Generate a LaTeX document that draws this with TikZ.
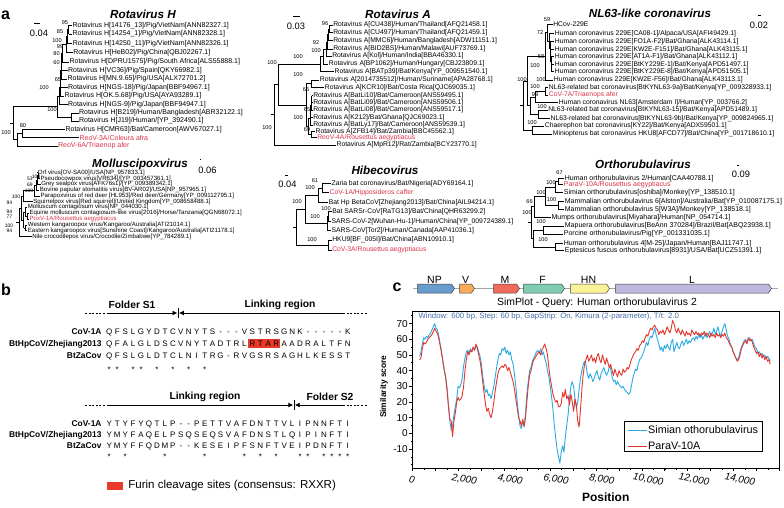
\documentclass[tikz,border=0pt]{standalone}
\usepackage{fontspec}
\setmainfont{Liberation Sans}
\usetikzlibrary{calc,positioning,arrows.meta,shapes.symbols}

\definecolor{virred}{RGB}{218,52,72}
\definecolor{furin}{RGB}{232,58,40}
\definecolor{simblue}{RGB}{41,171,226}
\definecolor{parared}{RGB}{229,53,43}
\definecolor{wincol}{RGB}{70,110,170}
\definecolor{cNP}{RGB}{104,156,204}
\definecolor{cV}{RGB}{247,170,88}
\definecolor{cM}{RGB}{240,106,92}
\definecolor{cF}{RGB}{128,204,176}
\definecolor{cHN}{RGB}{250,242,150}
\definecolor{cL}{RGB}{190,186,222}

\newcommand\fsz[1]{\fontsize{#1}{#1}\selectfont}
% clade: name, x of node, two children
\newcommand\clade[4]{%
  \coordinate (tmp) at ($(#3)!.5!(#4)$);
  \coordinate (#1) at (#2,0 |- tmp);
  \draw[brl] (#3 -| #1) -- (#3) (#4 -| #1) -- (#4) (#3 -| #1) -- (#4 -| #1);
}
\newcommand\bs[4]{\node[bsl] (#1) at (#2,#3) {#4};}

\tikzset{
  brl/.style={line width=0.6pt},
  lf/.style={anchor=west, inner sep=0.4pt, font=\fsz{6.8}},
  vir/.style={text=virred},
  bsl/.style={inner sep=0pt, font=\fsz{5.6}},
  ttl/.style={font=\fsz{11.7}\bfseries\itshape},
  sbar/.style={line width=1pt},
  sblbl/.style={font=\fsz{9.3}},
  plbl/.style={font=\fsz{16}\bfseries},
  sqn/.style={anchor=east, inner sep=0pt, font=\fsz{8.4}\bfseries, text height=6pt, text depth=0pt},
  sqc/.style={inner sep=0pt, font=\fsz{8}, text height=6pt, text depth=0pt},
  cons/.style={inner sep=0pt, font=\fsz{8}, text height=6pt, text depth=0pt},
  hdr/.style={font=\fsz{10.3}\bfseries},
  region/.style={line width=0.9pt},
  gene/.style={signal, signal to=east, signal pointer angle=112, draw=black!75,
    line width=0.5pt, minimum height=9pt, inner sep=0pt},
  glbl/.style={font=\fsz{10.5}, inner sep=0.5pt},
  ytk/.style={anchor=east, font=\fsz{10}, inner sep=0pt},
  xtk/.style={anchor=north, font=\fsz{10}\itshape, inner sep=0pt, rotate=-10},
  lgt/.style={anchor=west, font=\fsz{10.8}, inner sep=0pt}
}

\begin{document}
\begin{tikzpicture}[x=1pt, y=-1pt]
\useasboundingbox (0,0) rectangle (784,508);

% ---------------- panel a
\node[plbl] (pa) at (5.5,15) {a};

% Rotavirus H
\begin{scope}[lf/.append style={font=\fsz{7}}]
\node[ttl] (tRH) at (143,14) {Rotavirus H};
\draw[sbar] (34,24) -- (40,24);
\node[sblbl] (sRH) at (39,33) {0.04};
\node[lf] (h1) at (72,25.5) {Rotavirus H[14176\_13]/Pig/VietNam[ANN82327.1]};
\node[lf] (h2) at (72,34) {Rotavirus H[14254\_1]/Pig/VietNam[ANN82328.1]};
\node[lf] (h3) at (72.3,43.5) {Rotavirus H[14250\_11]/Pig/VietNam[ANN82326.1]};
\node[lf] (h4) at (72.7,52.5) {Rotavirus H[HeB02]/Pig/China[QBJ02267.1]};
\node[lf] (h5) at (69,62) {Rotavirus H[DPRU1575]/Pig/South Africa[ALS55888.1]};
\node[lf] (h6) at (67.5,70.5) {Rotavirus H[VC36]/Pig/Spain[QKY66982.1]};
\node[lf] (h7) at (67,79) {Rotavirus H[MN.9.65]/Pig/USA[ALX72701.2]};
\node[lf] (h8) at (67.5,87.5) {Rotavirus H[NGS-18]/Pig/Japan[BBF94967.1]};
\node[lf] (h9) at (64,96) {Rotavirus H[OK.5.68]/Pig/USA[AYA93289.1]};
\node[lf] (h10) at (67.5,104.5) {Rotavirus H[NGS-9]/Pig/Japan[BBF94947.1]};
\node[lf] (h11) at (78.5,113) {Rotavirus H[B219]/Human/Bangladesh[ABR32122.1]};
\node[lf] (h12) at (78.5,121) {Rotavirus H[J19]/Human/[YP\_392490.1]};
\node[lf] (h13) at (65,129.5) {Rotavirus H[CMR63]/Bat/Cameroon[AWV67027.1]};
\node[lf,vir] (h14) at (79,137.5) {ReoV-3A/Coleura afra};
\node[lf,vir] (h15) at (57.5,146) {ReoV-6A/Triaenop afer};
\clade{hi}{68.5}{h1}{h2}
\clade{hh}{67}{hi}{h3}
\clade{hg}{66}{hh}{h4}
\clade{hf}{62}{hg}{h5}
\clade{he}{61.5}{hf}{h6}
\clade{hd}{61}{he}{h7}
\clade{hc}{60.5}{hd}{h8}
\clade{hb}{60}{hc}{h9}
\clade{ha}{59}{hb}{h10}
\clade{hu}{71}{h11}{h12}
\clade{hA}{57}{ha}{hu}
\clade{hb1}{22}{h13}{h14}
\clade{hB}{17}{hb1}{h15}
\clade{hR}{13}{hA}{hB}
\draw[brl] (hR) -- ++(-3,0);
\bs{hs1}{65}{23}{95} \bs{hs2}{60}{32}{85} \bs{hs3}{57}{41}{100}
\bs{hs4}{60}{47}{99} \bs{hs5}{56.5}{54}{80} \bs{hs6}{56.5}{63}{60}
\bs{hs7}{58}{80}{65} \bs{hs8}{44}{88}{100} \bs{hs9}{52}{110}{100}
\bs{hs10}{6}{133}{100} \bs{hs11}{23}{126}{80}
\end{scope}

% Rotavirus A
\begin{scope}
\node[ttl] (tRA) at (398,14) {Rotavirus A};
\draw[sbar] (293,17) -- (300,17);
\node[sblbl] (sRA) at (296,26) {0.03};
\node[lf] (a1) at (332.7,25) {Rotavirus A[CU438]/Human/Thailand[AFQ21458.1]};
\node[lf] (a2) at (332.7,32.7) {Rotavirus A[CU497]/Human/Thailand[AFQ21459.1]};
\node[lf] (a3) at (332.7,40.7) {Rotavirus A[MMC6]/Human/Bangladesh[ADW11151.1]};
\node[lf] (a4) at (332.7,49) {Rotavirus A[BID2BS]/Human/Malawi[AUF73769.1]};
\node[lf] (a5) at (331.7,56) {Rotavirus A[Kol]/Human/India[BBA46330.1]};
\node[lf] (a6) at (328.3,64) {Rotavirus A[BP1062]/Human/Hungary[CBJ23809.1]};
\node[lf] (a7) at (334,71.7) {Rotavirus A[BATp39]/Bat/Kenya[YP\_009551540.1]};
\node[lf] (a8) at (319.3,80) {Rotavirus A[2014735512]/Human/Suriname[APA28768.1]};
\node[lf] (a9) at (324.3,87.3) {Rotavirus A[KCR10]/Bat/Costa Rica[QJC69035.1]};
\node[lf] (a10) at (312.7,95.7) {Rotavirus A[BatLi10]/Bat/Cameroon[ANS59495.1]};
\node[lf] (a11) at (312.7,102.7) {Rotavirus A[BatLi09]/Bat/Cameroon[ANS59506.1]};
\node[lf] (a12) at (312.7,110) {Rotavirus A[BatLi08]/Bat/Cameroon[ANS59517.1]};
\node[lf] (a13) at (312.7,117.7) {Rotavirus A[K212]/Bat/Ghana[QJC69023.1]};
\node[lf] (a14) at (312.7,125) {Rotavirus A[BatLy17]/Bat/Cameroon[ANS59539.1]};
\node[lf] (a15) at (315,131.7) {Rotavirus A[ZFB14]/Bat/Zambia[BBC45562.1]};
\node[lf,vir] (a16) at (316.7,137.3) {ReoV-4A/Rousettus aegyptiacus};
\node[lf] (a17) at (336,145) {Rotavirus A[MpR12]/Rat/Zambia[BCY23770.1]};
\clade{ae}{329.5}{a1}{a2}
\clade{ad}{328}{ae}{a3}
\clade{ac}{327}{ad}{a4}
\clade{ab}{326}{ac}{a5}
\clade{aa}{323}{ab}{a6}
\clade{aH}{320}{aa}{a7}
\clade{aL}{311}{a8}{a9}
\clade{ak4}{311.5}{a10}{a11}
\clade{ak3}{311}{ak4}{a12}
\clade{ak2}{310.5}{ak3}{a13}
\clade{ak1}{310}{ak2}{a14}
\clade{aK}{311}{a15}{a16}
\clade{aJ}{308}{ak1}{aK}
\clade{aB}{306}{aL}{aJ}
\clade{aX}{278}{aH}{aB}
\clade{aR}{274}{aX}{a17}
\draw[brl] (aR) -- ++(-3,0);
\bs{as1}{325}{24}{96} \bs{as2}{316}{43}{92} \bs{as3}{316}{51}{100}
\bs{as4}{298}{57}{100} \bs{as5}{272}{63}{100} \bs{as6}{298}{75}{100}
\bs{as7}{306}{90}{66} \bs{as8}{307}{110}{65} \bs{as9}{298}{118}{100}
\bs{as10}{307}{130}{69} \bs{as11}{267}{128}{100}
\end{scope}

% NL63-like coronavirus
\begin{scope}
\node[ttl] (tNL) at (650,13) {NL63-like coronavirus};
\draw[sbar] (758,16) -- (760.5,16);
\node[sblbl] (sNL) at (759,25) {0.02};
\node[lf] (n1) at (552.7,24) {HCov-229E};
\node[lf] (n2) at (554.3,33.3) {Human coronavirus 229E[CA08-1]/Alpaca/USA[AFI49429.1]};
\node[lf] (n3) at (554.3,41.7) {Human coronavirus 229E[FO1A-F2]/Bat/Ghana[ALK43114.1]};
\node[lf] (n4) at (554.3,49.3) {Human coronavirus 229E[KW2E-F151]/Bat/Ghana[ALK43115.1]};
\node[lf] (n5) at (554.3,56.7) {Human coronavirus 229E[AT1A-F1]/Bat/Ghana[ALK43112.1]};
\node[lf] (n6) at (554.3,64.3) {Human coronavirus 229E[BtKY229E-1]/Bat/Kenya[APD51497.1]};
\node[lf] (n7) at (554.3,71.7) {Human coronavirus 229E[BtKY229E-8]/Bat/Kenya[APD51505.1]};
\node[lf] (n8) at (553.3,80) {Human coronavirus 229E[KW2E-F56]/Bat/Ghana[ALK43113.1]};
\node[lf] (n9) at (548.3,87.3) {NL63-related bat coronavirus[BtKYNL63-9a]/Bat/Kenya[YP\_009328933.1]};
\node[lf,vir] (n10) at (548.3,95) {CoV-7A/Triaenops afer};
\node[lf] (n11) at (558.3,102.7) {Human coronavirus NL63[Amsterdam I]/Human[YP\_003766.2]};
\node[lf] (n12) at (547.7,110) {NL63-related bat coronavirus[BtKYNL63-15]/Bat/Kenya[APD51489.1]};
\node[lf] (n13) at (550,118.3) {NL63-related bat coronavirus[BtKYNL63-9b]/Bat/Kenya[YP\_009824965.1]};
\node[lf] (n14) at (544.3,126) {Chaerephon bat coronavirus[KY22]/Bat/Kenya[ADX59501.1]};
\node[lf] (n15) at (552.3,134) {Miniopterus bat coronavirus HKU8[AFCD77]/Bat/China[YP\_001718610.1]};
\clade{nf}{551.5}{n6}{n7}
\clade{ne}{551}{n5}{nf}
\clade{nd}{550.5}{n4}{ne}
\clade{nc}{550}{n3}{nd}
\clade{nb}{549}{n2}{nc}
\clade{na}{547}{n1}{nb}
\clade{nC}{545}{na}{n8}
\clade{nk}{545}{n9}{n10}
\clade{nj}{535}{nk}{n11}
\clade{nm}{538}{n12}{n13}
\clade{nN}{530}{nj}{nm}
\clade{nY}{527}{nC}{nN}
\clade{nZ}{532}{n14}{n15}
\clade{nR}{523}{nY}{nZ}
\draw[brl] (nR) -- ++(-3,0);
\bs{ns1}{547}{20}{59} \bs{ns2}{540}{33}{72} \bs{ns3}{541}{57}{58}
\bs{ns4}{535}{66}{100} \bs{ns5}{541}{80}{100} \bs{ns6}{522}{80}{100}
\bs{ns7}{535}{87}{100} \bs{ns8}{535}{95}{99} \bs{ns9}{542}{107}{100}
\bs{ns10}{532}{123}{100}
\end{scope}

% Molluscipoxvirus
\begin{scope}[lf/.append style={font=\fsz{6.1}}, bsl/.append style={font=\fsz{5}}]
\node[ttl] (tMP) at (140,164) {Molluscipoxvirus};
\draw[sbar] (199.5,159) -- (201,159);
\node[sblbl] (sMP) at (207.5,170) {0.06};
\node[lf] (m1) at (37.3,172.7) {Orf virus[OV-SA00]/USA[NP\_957833.1]};
\node[lf] (m2) at (40,178.7) {Pseudocowpox virus[VR634]/[YP\_003457361.1]};
\node[lf] (m3) at (40.7,184.3) {Grey sealpox virus[AFK76s1]/[YP\_009389342.1]};
\node[lf] (m4) at (39.3,190) {Bovine papular stomatitis virus[BV-AR02]/USA[NP\_957965.1]};
\node[lf] (m5) at (40,196) {Parapoxvirus of red deer [HL953]/Red deer/Germany[YP\_009112795.1]};
\node[lf] (m6) at (32.7,201.7) {Squirrelpox virus[Red squirrel]/United Kingdom[YP\_008658488.1]};
\node[lf] (m7) at (27.3,207.3) {Molluscum contagiosum virus[NP\_044030.1]};
\node[lf] (m8) at (29,213.3) {Equine molluscum contagiosum-like virus[2016]/Horse/Tanzania[QGN68072.1]};
\node[lf,vir] (m9) at (29,219.3) {PoxV-1A/Rousettus aegyptiacus};
\node[lf] (m10) at (27.3,225) {Western kangaroopox virus/Kangaroo/Australia[ATI21014.1]};
\node[lf] (m11) at (27.3,230.7) {Eastern kangaroopox virus[Sunshine Coast]/Kangaroo/Australia[ATI21178.1]};
\node[lf] (m12) at (31.7,236.7) {Nile crocodilepox virus/Crocodile/Zimbabwe[YP\_784289.1]};
\clade{mp3}{38}{m1}{m2}
\clade{mp2}{37}{mp3}{m3}
\clade{mp1}{36}{mp2}{m4}
\clade{mP}{34}{mp1}{m5}
\clade{mQ}{23}{mP}{m6}
\clade{mm1}{27}{m8}{m9}
\clade{mM}{25}{m7}{mm1}
\clade{mK}{25.5}{m10}{m11}
\clade{mMK}{23.5}{mM}{mK}
\clade{mR1}{21}{mQ}{mMK}
\clade{mR}{19}{mR1}{m12}
\draw[brl] (mR) -- ++(-3,0);
\bs{ms1}{36}{176.5}{100} \bs{ms2}{30}{179}{53} \bs{ms3}{30}{185}{69}
\bs{ms4}{29}{190.7}{100} \bs{ms5}{16}{196.7}{100} \bs{ms6}{9.5}{202.7}{94}
\bs{ms7}{9.5}{211.7}{94} \bs{ms8}{9.5}{216.7}{77} \bs{ms9}{9}{226}{100}
\bs{ms10}{9.5}{230.5}{94}
\end{scope}

% Hibecovirus
\begin{scope}
\node[ttl] (tHB) at (385,170) {Hibecovirus};
\draw[sbar] (285,175) -- (288,175);
\node[sblbl] (sHB) at (287.5,184) {0.04};
\node[lf] (e1) at (331,183.3) {Zaria bat coronavirus/Bat/Nigeria[ADY69164.1]};
\node[lf,vir] (e2) at (329,192.7) {CoV-1A/Hipposideros caffer};
\node[lf] (e3) at (328.3,202.3) {Bat Hp BetaCoV[Zhejiang2013]/Bat/China[AIL94214.1]};
\node[lf] (e4) at (331.7,211.7) {Bat SARSr-CoV[RaTG13]/Bat/China[QHR63299.2]};
\node[lf] (e5) at (331,221.7) {SARS-CoV-2[Wuhan-Hu-1]/Human/China[YP\_009724389.1]};
\node[lf] (e6) at (331,230.7) {SARS-CoV[Tor2]/Human/Canada[AAP41036.1]};
\node[lf] (e7) at (331.7,240) {HKU9[BF\_005I]/Bat/China[ABN10910.1]};
\node[lf,vir] (e8) at (331.7,250) {CoV-3A/Rousettus aegyptiacus};
\clade{ea}{322}{e1}{e2}
\clade{eA}{318}{ea}{e3}
\clade{eb}{328}{e4}{e5}
\clade{eB}{327}{eb}{e6}
\clade{eE}{305}{eA}{eB}
\clade{eF}{328}{e7}{e8}
\clade{eR}{296}{eE}{eF}
\draw[brl] (eR) -- ++(-3,0);
\bs{es1}{315}{180.7}{61} \bs{es2}{310}{188}{100} \bs{es3}{297}{201.7}{100}
\bs{es4}{326}{209}{100} \bs{es5}{315}{216.7}{100} \bs{es6}{312}{240}{100}
\end{scope}

% Orthorubulavirus
\begin{scope}[lf/.append style={font=\fsz{7}}]
\node[ttl] (tOR) at (643,164) {Orthorubulavirus};
\draw[sbar] (737,165) -- (738.5,165);
\node[sblbl] (sOR) at (741,174) {0.09};
\node[lf] (o1) at (564.3,178.3) {Human orthorubulavirus 2/Human[CAA40788.1]};
\node[lf,vir] (o2) at (563.3,184.3) {ParaV-10A/Rousettus aegyptiacus};
\node[lf] (o3) at (563.3,192.7) {Simian orthorubulavirus[oshiba]/Monkey[YP\_138510.1]};
\node[lf] (o4) at (564.3,201.7) {Mammalian orthorubulavirus 6[Alston]/Australia/Bat[YP\_010087175.1]};
\node[lf] (o5) at (564.3,209.3) {Mammalian orthorubulavirus 5[W3A]/Monkey[YP\_138518.1]};
\node[lf] (o6) at (551,217.3) {Mumps orthorubulavirus[Miyahara]/Human[NP\_054714.1]};
\node[lf] (o7) at (564.3,226) {Mapuera orthorubulavirus[BeAnn 370284]/Brazil/Bat[ABQ23938.1]};
\node[lf] (o8) at (563.3,234) {Porcine orthorubulavirus/Pig[YP\_001331035.1]};
\node[lf] (o9) at (563.3,243.3) {Human orthorubulavirus 4[M-25]/Japan/Human[BAJ11747.1]};
\node[lf] (o10) at (564.3,250.7) {Eptesicus fuscus orthorubulavirus[8931]/USA/Bat[UCZ51391.1]};
\clade{oa}{558}{o1}{o2}
\clade{ob}{555}{oa}{o3}
\clade{oc}{558}{o4}{o5}
\clade{od}{545}{ob}{oc}
\clade{oW}{534}{od}{o6}
\clade{oe}{543}{o7}{o8}
\clade{of}{555}{o9}{o10}
\clade{oV}{533}{oe}{of}
\clade{oR}{531}{oW}{oV}
\draw[brl] (oR) -- ++(-3,0);
\bs{os1}{559.5}{172.7}{67} \bs{os2}{551}{182.7}{100} \bs{os3}{541}{192.7}{100}
\bs{os4}{551.5}{199.3}{100} \bs{os5}{529.5}{201.7}{66} \bs{os6}{527}{212.7}{100}
\bs{os7}{541}{221.7}{100} \bs{os8}{543}{240}{100}
\end{scope}

% ---------------- panel b
\node[plbl] (pb) at (6,290) {b};
\node[hdr] (fs1) at (132,305) {Folder S1};
\node[hdr] (lk1) at (280,305) {Linking region};
\coordinate (l1w) at (85,313); \coordinate (l1a) at (107,313);
\coordinate (l1m) at (178.2,313); \coordinate (l1b) at (343,313);
\coordinate (l1e) at (367,313);
\draw[region, dash pattern=on 2pt off 1.6pt] (l1w) -- (l1a) (l1b) -- (l1e);
\draw[region, -{Latex[length=5pt,width=5pt]}] (l1a) -- ([xshift=-0.7pt]l1m);
\draw[region, -{Latex[length=5pt,width=5pt]}] (l1b) -- ([xshift=0.7pt]l1m);
\draw[line width=0.7pt] ([yshift=-5pt]l1m) -- ([yshift=5pt]l1m);

\fill[furin] (248.4,338.6) rectangle (280.3,347.9);
\node[sqn] (q1) at (101.7,331.7) {CoV-1A};
\node[sqn] (q2) at (101.7,343.3) {BtHpCoV/Zhejiang2013};
\node[sqn] (q3) at (101.7,355) {BtZaCov};
\foreach \c [count=\i from 0] in {Q,F,S,L,G,Y,D,T,C,V,N,Y,T,S,-,-,-,V,S,T,R,S,G,N,K,-,-,-,-,-,K}
  \node[sqc] (s1a\i) at ({109.3+7.95*\i},331.7) {\c};
\foreach \c [count=\i from 0] in {Q,F,A,L,G,L,D,S,C,V,N,Y,T,A,D,T,R,L,R,T,A,R,A,A,D,R,A,L,T,F,N}
  \node[sqc] (s1b\i) at ({109.3+7.95*\i},343.3) {\c};
\foreach \c [count=\i from 0] in {Q,F,S,L,G,L,D,T,C,L,N,I,T,R,G,-,R,V,G,S,R,S,A,G,H,L,K,E,S,S,T}
  \node[sqc] (s1c\i) at ({109.3+7.95*\i},355) {\c};
\foreach \i in {0,1,3,4,6,8,10,12}
  \node[cons] (k1\i) at ({109.3+7.95*\i},369.8) {*};

\node[hdr] (lk2) at (205,397) {Linking region};
\node[hdr] (fs2) at (330,397) {Folder S2};
\coordinate (l2w) at (85,405); \coordinate (l2a) at (107,405);
\coordinate (l2m) at (294,405); \coordinate (l2b) at (343,405);
\coordinate (l2e) at (367,405);
\draw[region, dash pattern=on 2pt off 1.6pt] (l2w) -- (l2a) (l2b) -- (l2e);
\draw[region, -{Latex[length=5pt,width=5pt]}] (l2a) -- ([xshift=-0.7pt]l2m);
\draw[region, -{Latex[length=5pt,width=5pt]}] (l2b) -- ([xshift=0.7pt]l2m);
\draw[line width=0.7pt] ([yshift=-5pt]l2m) -- ([yshift=5pt]l2m);

\node[sqn] (q4) at (101.7,423.3) {CoV-1A};
\node[sqn] (q5) at (101.7,434.3) {BtHpCoV/Zhejiang2013};
\node[sqn] (q6) at (101.7,445) {BtZaCov};
\foreach \c [count=\i from 0] in {Y,T,Y,F,Y,Q,T,L,P,-,-,P,E,T,T,V,A,F,D,N,T,T,V,L,I,P,N,N,F,T,I}
  \node[sqc] (s2a\i) at ({109.3+7.95*\i},423.3) {\c};
\foreach \c [count=\i from 0] in {Y,M,Y,F,A,Q,E,L,P,S,Q,S,E,Q,S,V,A,F,D,N,S,T,L,Q,I,P,I,N,F,T,I}
  \node[sqc] (s2b\i) at ({109.3+7.95*\i},434.3) {\c};
\foreach \c [count=\i from 0] in {Y,M,Y,F,F,Q,D,M,P,-,-,K,E,S,E,I,P,F,S,N,F,T,V,E,I,P,D,N,F,T,I}
  \node[sqc] (s2c\i) at ({109.3+7.95*\i},445) {\c};
\foreach \i in {0,2,7,12,17,19,21,24,25,27,28,29,30}
  \node[cons] (k2\i) at ({109.3+7.95*\i},456.6) {*};

\node[fill=furin, minimum width=16pt, minimum height=8pt, inner sep=0pt] (fbox) at (115,486) {};
\node[right=5pt of fbox, inner sep=0pt, font=\fsz{11.5}] (ftxt) {Furin cleavage sites (consensus: RXXR)};

% ---------------- panel c
\node[plbl] (pc) at (397,287) {c};
\coordinate (gs) at (413,288.5); \coordinate (ge) at (778,288.5);
\draw[black!35, line width=1.2pt] (gs) -- (ge);
\node[gene, fill=cNP, minimum width=37pt, label={[glbl]above:NP}] (gNP) at (434.5,288.5) {};
\node[gene, fill=cV, minimum width=15pt, label={[glbl]above:V}] (gV) at (465.5,288.5) {};
\node[gene, fill=cM, minimum width=26pt, label={[glbl]above:M}] (gM) at (505,288.5) {};
\node[gene, fill=cF, minimum width=41pt, label={[glbl]above:F}] (gF) at (542.5,288.5) {};
\node[gene, fill=cHN, minimum width=39pt, label={[glbl]above:HN}] (gHN) at (588.5,288.5) {};
\node[gene, fill=cL, minimum width=156pt, label={[glbl]above:L}] (gL) at (692,288.5) {};

\node[font=\fsz{10.4}] (sptl) at (597,303) {SimPlot - Query: Human orthorubulavirus 2};
\node[rotate=90, font=\fsz{8.4}\bfseries] (ylab) at (384,386.7) {Similarity score};
\node[font=\fsz{12}\bfseries] (xlab) at (605.7,497.3) {Position};

\begin{scope}[shift={(412.7,433.3)}, x=22.92pt, y=1.567pt]
  \draw[line width=0.8pt] (0,-22.1) rectangle (16,78);
  \foreach \v in {-20,-15,...,75} \draw[line width=0.6pt] (0,\v) -- ++(-2pt,0);
  \foreach \v in {-10,0,...,70} {
    \draw[line width=0.7pt] (0,\v) -- ++(-3.5pt,0);
    \node[ytk] (yt\v) at ([xshift=-4.8pt]0,\v) {\v};
  }
  \foreach \p in {0,0.5,...,16} \draw[line width=0.6pt] (\p,-22.1) -- ++(0,-2.2pt);
  \foreach \p in {0,1,...,16} \draw[line width=0.7pt] (\p,-22.1) -- ++(0,-3.5pt);
  \foreach \p/\t/\d in {0/0/0,2/{2,000}/6.5,4/{4,000}/6.5,6/{6,000}/6.5,8/{8,000}/6.5,
      10/{10,000}/7,12/{12,000}/7,14/{14,000}/7}
    \node[xtk] (xt\p) at ([xshift=\d pt, yshift=-7.5pt]\p,-22.1) {\t};
  \node[anchor=west, inner sep=0pt, font=\fsz{7.8}, text=wincol] (win) at ([xshift=5.6pt, yshift=-5.7pt]0,78)
    {Window: 600 bp, Step: 60 bp, GapStrip: On, Kimura (2-parameter), T/t: 2.0};
  % Simian othorubulavirus
  \draw[simblue, line width=0.9pt, line join=round] plot coordinates {
(0.30,49)(0.36,52)(0.42,57)(0.48,61)(0.54,60)(0.60,62)(0.66,61)(0.72,63)(0.78,64)(0.84,66)(0.90,68)(0.96,70)(1.02,67)(1.08,66)(1.14,62)(1.20,57)(1.26,52)(1.32,45)(1.38,40)(1.44,36)(1.50,29)(1.56,18)(1.62,8)(1.68,2)(1.74,5)(1.80,12)(1.86,17)(1.92,22)(1.98,30)(2.04,29)(2.10,31)(2.16,35)(2.22,43)(2.28,48)(2.34,52)(2.40,53)(2.46,51)(2.52,54)(2.58,52)(2.64,55)(2.70,53)(2.76,56)(2.82,55)(2.88,52)(2.94,49)(3.00,44)(3.06,36)(3.12,30)(3.18,26)(3.24,28)(3.30,24)(3.36,25)(3.42,22)(3.48,26)(3.54,30)(3.60,36)(3.66,42)(3.72,47)(3.78,51)(3.84,50)(3.90,54)(3.96,53)(4.02,55)(4.08,51)(4.14,53)(4.20,50)(4.26,52)(4.32,47)(4.38,44)(4.44,38)(4.50,30)(4.56,20)(4.62,12)(4.68,5)(4.74,3)(4.80,8)(4.86,5)(4.92,12)(4.98,25)(5.04,33)(5.10,40)(5.16,42)(5.22,46)(5.28,48)(5.34,50)(5.40,52)(5.46,53)(5.52,51)(5.58,54)(5.64,50)(5.70,52)(5.76,48)(5.82,45)(5.88,40)(5.94,36)(6.00,30)(6.06,23)(6.12,15)(6.18,5)(6.24,-3)(6.30,-10)(6.36,-15)(6.42,-19)(6.48,-12)(6.54,-8)(6.60,-12)(6.66,-2)(6.72,5)(6.78,12)(6.84,22)(6.90,30)(6.96,33)(7.02,30)(7.08,22)(7.14,16)(7.20,20)(7.26,28)(7.32,35)(7.38,40)(7.44,44)(7.50,46)(7.56,44)(7.62,38)(7.68,35)(7.74,38)(7.80,36)(7.86,33)(7.92,35)(7.98,38)(8.04,40)(8.10,36)(8.16,34)(8.22,38)(8.28,40)(8.34,42)(8.40,39)(8.46,37)(8.52,39)(8.58,43)(8.64,41)(8.70,36)(8.76,33)(8.82,34)(8.88,31)(8.94,33)(9.00,31)(9.06,30)(9.12,29)(9.18,30)(9.24,28)(9.30,27)(9.36,26)(9.42,25)(9.48,26)(9.54,30)(9.60,35)(9.66,38)(9.72,41)(9.78,40)(9.84,44)(9.90,47)(9.96,48)(10.02,50)(10.08,52)(10.14,55)(10.20,58)(10.26,56)(10.32,60)(10.38,62)(10.44,61)(10.50,64)(10.56,67)(10.62,63)(10.68,60)(10.74,57)(10.80,53)(10.86,55)(10.92,52)(10.98,56)(11.04,54)(11.10,57)(11.16,55)(11.22,53)(11.28,58)(11.34,60)(11.40,52)(11.46,55)(11.52,58)(11.58,55)(11.64,54)(11.70,57)(11.76,59)(11.82,56)(11.88,58)(11.94,60)(12.00,57)(12.06,59)(12.12,58)(12.18,60)(12.24,61)(12.30,59)(12.36,62)(12.42,60)(12.48,63)(12.54,61)(12.60,63)(12.66,60)(12.72,62)(12.78,64)(12.84,61)(12.90,63)(12.96,65)(13.02,62)(13.08,64)(13.14,67)(13.20,63)(13.26,65)(13.32,68)(13.38,64)(13.44,62)(13.50,65)(13.56,68)(13.62,70)(13.68,66)(13.74,62)(13.80,60)(13.86,57)(13.92,55)(13.98,52)(14.04,50)(14.10,48)(14.16,47)(14.22,48)(14.28,52)(14.34,55)(14.40,57)(14.46,59)(14.52,60)(14.58,58)(14.64,60)(14.70,61)(14.76,59)(14.82,60)(14.88,57)(14.94,55)(15.00,54)(15.06,51)(15.12,52)(15.18,50)(15.24,51)(15.30,49)(15.36,50)(15.42,48)(15.48,49)(15.54,48)(15.60,46)};
  % ParaV-10A
  \draw[parared, line width=0.9pt, line join=round] plot coordinates {
(0.30,47)(0.36,48)(0.42,54)(0.48,58)(0.54,57)(0.60,58)(0.66,60)(0.72,61)(0.78,62)(0.84,63)(0.90,65)(0.96,67)(1.02,65)(1.08,64)(1.14,60)(1.20,56)(1.26,51)(1.32,46)(1.38,40)(1.44,35)(1.50,27)(1.56,17)(1.62,9)(1.68,8)(1.74,-2)(1.80,8)(1.86,13)(1.92,20)(1.98,23)(2.04,21)(2.10,22)(2.16,24)(2.22,30)(2.28,40)(2.34,47)(2.40,52)(2.46,50)(2.52,53)(2.58,52)(2.64,55)(2.70,53)(2.76,57)(2.82,54)(2.88,50)(2.94,46)(3.00,40)(3.06,32)(3.12,25)(3.18,18)(3.24,14)(3.30,16)(3.36,12)(3.42,10)(3.48,14)(3.54,20)(3.60,27)(3.66,33)(3.72,38)(3.78,41)(3.84,42)(3.90,43)(3.96,42)(4.02,44)(4.08,43)(4.14,40)(4.20,42)(4.26,39)(4.32,36)(4.38,33)(4.44,28)(4.50,22)(4.56,16)(4.62,10)(4.68,8)(4.74,5)(4.80,9)(4.86,4)(4.92,10)(4.98,20)(5.04,30)(5.10,37)(5.16,40)(5.22,44)(5.28,47)(5.34,48)(5.40,50)(5.46,51)(5.52,52)(5.58,50)(5.64,53)(5.70,55)(5.76,57)(5.82,54)(5.88,50)(5.94,42)(6.00,35)(6.06,30)(6.12,25)(6.18,22)(6.24,20)(6.30,21)(6.36,17)(6.42,17)(6.48,19)(6.54,26)(6.60,23)(6.66,28)(6.72,22)(6.78,24)(6.84,18)(6.90,25)(6.96,20)(7.02,14)(7.08,22)(7.14,18)(7.20,8)(7.26,4)(7.32,15)(7.38,28)(7.44,38)(7.50,44)(7.56,47)(7.62,50)(7.68,46)(7.74,48)(7.80,50)(7.86,46)(7.92,48)(7.98,45)(8.04,49)(8.10,51)(8.16,47)(8.22,45)(8.28,50)(8.34,47)(8.40,44)(8.46,48)(8.52,45)(8.58,42)(8.64,44)(8.70,40)(8.76,37)(8.82,41)(8.88,38)(8.94,36)(9.00,40)(9.06,38)(9.12,37)(9.18,41)(9.24,39)(9.30,40)(9.36,42)(9.42,41)(9.48,44)(9.54,47)(9.60,49)(9.66,51)(9.72,52)(9.78,54)(9.84,53)(9.90,56)(9.96,57)(10.02,59)(10.08,58)(10.14,61)(10.20,63)(10.26,62)(10.32,65)(10.38,67)(10.44,66)(10.50,68)(10.56,69)(10.62,67)(10.68,66)(10.74,63)(10.80,65)(10.86,64)(10.92,66)(10.98,63)(11.04,65)(11.10,68)(11.16,66)(11.22,64)(11.28,67)(11.34,72)(11.40,70)(11.46,66)(11.52,64)(11.58,67)(11.64,65)(11.70,63)(11.76,66)(11.82,64)(11.88,62)(11.94,65)(12.00,63)(12.06,64)(12.12,62)(12.18,66)(12.24,64)(12.30,63)(12.36,65)(12.42,63)(12.48,64)(12.54,62)(12.60,64)(12.66,63)(12.72,65)(12.78,62)(12.84,64)(12.90,63)(12.96,61)(13.02,64)(13.08,62)(13.14,63)(13.20,61)(13.26,64)(13.32,62)(13.38,63)(13.44,61)(13.50,63)(13.56,62)(13.62,64)(13.68,61)(13.74,60)(13.80,58)(13.86,56)(13.92,55)(13.98,52)(14.04,50)(14.10,48)(14.16,46)(14.22,47)(14.28,50)(14.34,54)(14.40,56)(14.46,58)(14.52,59)(14.58,57)(14.64,61)(14.70,59)(14.76,60)(14.82,58)(14.88,55)(14.94,53)(15.00,51)(15.06,52)(15.12,49)(15.18,51)(15.24,48)(15.30,50)(15.36,47)(15.42,49)(15.48,46)(15.54,47)(15.60,44)};
\end{scope}

% legend
\node[draw, line width=0.8pt, fill=white, minimum width=138.7pt, minimum height=30pt, inner sep=0pt] (lgbox) at (693.4,436.7) {};
\coordinate (lb1) at (628,430); \coordinate (lb2) at (628,446);
\node[lgt, right=20pt of lb1] (lg1) {Simian othorubulavirus};
\node[lgt, right=20pt of lb2] (lg2) {ParaV-10A};
\draw[simblue, line width=1pt] (lb1) -- ([xshift=-1pt]lg1.west);
\draw[parared, line width=1pt] (lb2) -- ([xshift=-1pt]lg2.west);
\end{tikzpicture}
\end{document}
